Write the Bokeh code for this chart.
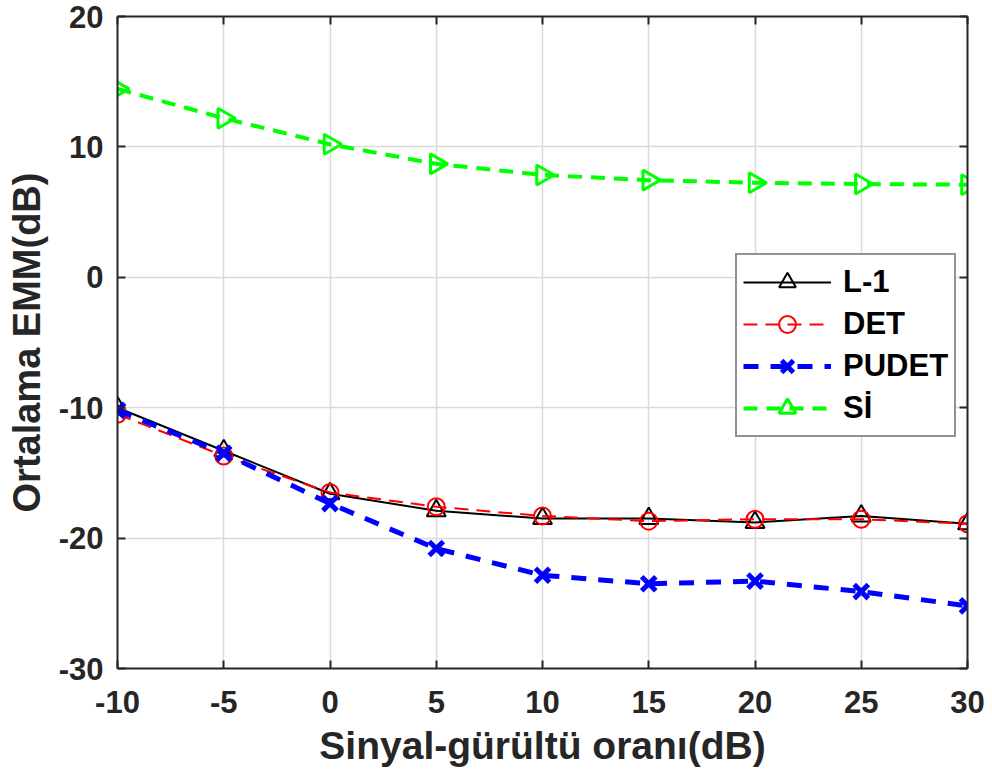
import math
from bokeh.plotting import figure
from bokeh.models import Range1d, FixedTicker, LinearAxis, Legend, LegendItem
from bokeh.embed import file_html
from bokeh.resources import INLINE

snr = [-10, -5, 0, 5, 10, 15, 20, 25, 30]
l1 = [-10.0, -13.3, -16.6, -17.9, -18.5, -18.5, -18.8, -18.3, -18.9]
det = [-10.5, -13.7, -16.5, -17.6, -18.3, -18.7, -18.55, -18.55, -18.9]
pudet = [-10.2, -13.5, -17.35, -20.8, -22.85, -23.5, -23.3, -24.1, -25.2]
si = [14.45, 12.2, 10.2, 8.7, 7.85, 7.45, 7.25, 7.15, 7.1]

x_ticks = [-10, -5, 0, 5, 10, 15, 20, 25, 30]
y_ticks = [-30, -20, -10, 0, 10, 20]
x_tick_labels = {t: str(t) for t in x_ticks}
y_tick_labels = {t: str(t) for t in y_ticks}

FONT = "Liberation Sans"
AX = "#262626"

p = figure(width=992, height=782, output_backend="svg", toolbar_location=None,
           x_range=Range1d(-10, 30), y_range=Range1d(-30, 20),
           min_border_left=117, min_border_right=25, min_border_top=16, min_border_bottom=114)
p.outline_line_color = None
p.background_fill_color = "white"

def style_axis(ax, show_labels=True):
    ax.axis_line_color = AX
    ax.axis_line_width = 2
    ax.major_tick_line_color = AX
    ax.major_tick_line_width = 2
    ax.major_tick_in = 8
    ax.major_tick_out = 0
    ax.minor_tick_line_color = None
    ax.major_label_text_font = FONT
    ax.major_label_text_font_style = "bold"
    ax.major_label_text_color = AX
    ax.axis_label_text_font = FONT
    ax.axis_label_text_font_style = "bold"
    ax.axis_label_text_color = AX
    if not show_labels:
        ax.major_label_text_color = None
        ax.major_label_text_font_size = "1px"
        ax.major_label_standoff = 0

xa = p.xaxis[0]
ya = p.yaxis[0]
xa.ticker = FixedTicker(ticks=x_ticks)
ya.ticker = FixedTicker(ticks=y_ticks)
xa.major_label_overrides = x_tick_labels
ya.major_label_overrides = y_tick_labels
style_axis(xa)
style_axis(ya)
xa.major_label_text_font_size = "31px"
ya.major_label_text_font_size = "31px"
xa.major_label_standoff = 22
ya.major_label_standoff = 14
xa.axis_label = "Sinyal-gürültü oranı(dB)"
ya.axis_label = "Ortalama EMM(dB)"
xa.axis_label_text_font_size = "39px"
ya.axis_label_text_font_size = "38px"
xa.axis_label_standoff = 8
ya.axis_label_standoff = 8

top = LinearAxis(ticker=FixedTicker(ticks=x_ticks))
right = LinearAxis(ticker=FixedTicker(ticks=y_ticks))
style_axis(top, False)
style_axis(right, False)
p.add_layout(top, "above")
p.add_layout(right, "right")

p.xgrid.ticker = FixedTicker(ticks=x_ticks)
p.ygrid.ticker = FixedTicker(ticks=y_ticks)
p.grid.grid_line_color = "#dadada"
p.grid.grid_line_width = 1.5

r1l = p.line(snr, l1, line_color="black", line_width=2)
r1m = p.scatter(snr, l1, marker="triangle", size=19, fill_color=None, line_color="black", line_width=2)
r2l = p.line(snr, det, line_color="red", line_width=2, line_dash="14 8")
r2m = p.scatter(snr, det, marker="circle", size=17, fill_color=None, line_color="red", line_width=2)
r3l = p.line(snr, pudet, line_color="blue", line_width=5, line_dash="15 12")
r3m = p.scatter(snr, pudet, marker="x", size=20, line_color="blue", line_width=5)
r4l = p.line(snr, si, line_color="#00ff00", line_width=4, line_dash="14 9")
r4m = p.scatter(snr, si, marker="triangle", size=20, angle=-math.pi / 2, fill_color=None,
                line_color="#00ff00", line_width=3)

legend = Legend(items=[
    LegendItem(label="L-1", renderers=[r1l, r1m]),
    LegendItem(label="DET", renderers=[r2l, r2m]),
    LegendItem(label="PUDET", renderers=[r3l, r3m]),
    LegendItem(label="Sİ", renderers=[r4l, r4m]),
], location=(618, 231))
legend.label_text_font = FONT
legend.label_text_font_style = "bold"
legend.label_text_font_size = "31px"
legend.label_text_color = "black"
legend.glyph_width = 88
legend.glyph_height = 42
legend.label_height = 42
legend.spacing = -1
legend.padding = 6
legend.margin = 0
legend.label_standoff = 12
legend.border_line_color = AX
legend.border_line_width = 2
legend.background_fill_color = "white"
legend.background_fill_alpha = 1
p.add_layout(legend, "center")

open("out.html", "w").write(file_html(p, INLINE))
